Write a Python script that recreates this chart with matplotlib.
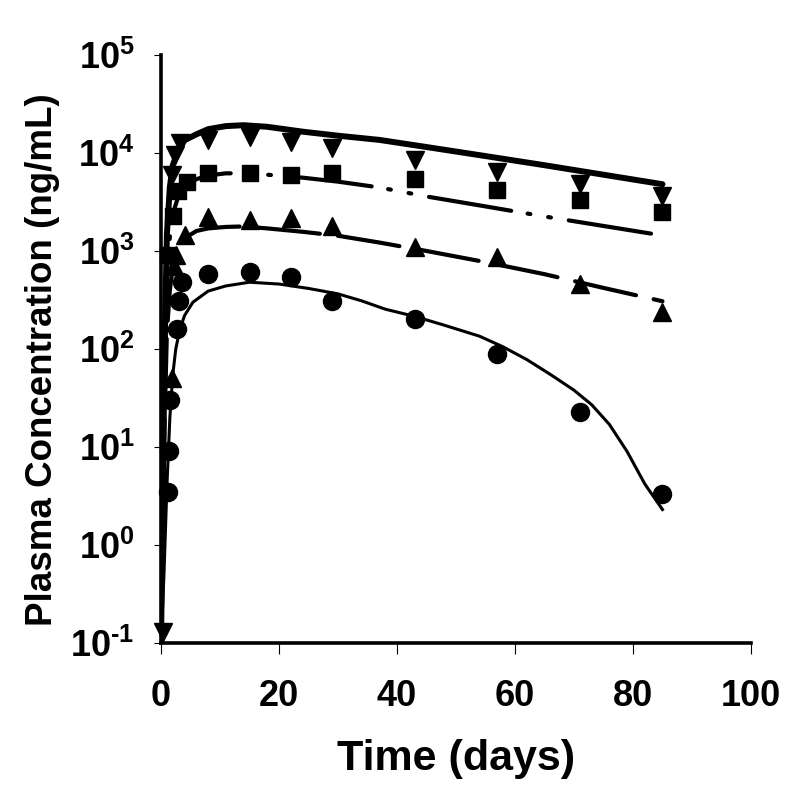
import numpy as np
import matplotlib
matplotlib.use('Agg')
import matplotlib.pyplot as plt

plt.rcParams['font.family'] = ['Liberation Sans', 'DejaVu Sans']
plt.rcParams['font.weight'] = 'bold'
plt.rcParams['mathtext.fontset'] = 'custom'
plt.rcParams['mathtext.rm'] = 'Liberation Sans:bold'
plt.rcParams['mathtext.bf'] = 'Liberation Sans:bold'
plt.rcParams['lines.scale_dashes'] = False

# observed data (days, ng/mL)
t_dn = [0.3, 1.9, 2.4, 3.3, 8, 15, 22, 29, 43, 57, 71, 85]
c_dn = [0.13, 6000, 9500, 12500, 13650, 14650, 13000, 11300, 8500, 6450, 4800, 3600]

t_sq = [1.2, 2.0, 2.9, 4.4, 8, 15, 22, 29, 43, 57, 71, 85]
c_sq = [900, 2250, 4100, 5000, 6300, 6300, 5900, 6300, 5450, 4150, 3350, 2470]

t_up = [1.9, 2.2, 2.6, 4.0, 8, 15, 22, 29, 43, 57, 71, 85]
c_up = [50, 700, 900, 1450, 2200, 2050, 2150, 1780, 1090, 860, 457, 237]

t_ci = [1.2, 1.4, 1.6, 2.7, 3.0, 3.6, 8, 15, 22, 29, 43, 57, 71, 85]
c_ci = [3.5, 9, 30, 160, 310, 480, 580, 615, 540, 310, 200, 89, 23, 3.3]

# model curves
m_t1 = [0, 0.3, 0.6, 1.0, 1.5, 2, 3, 4, 6, 8, 11, 14, 18, 24, 30, 37, 45, 55, 65, 75, 85]
m_c1 = [0.1, 3, 100, 1500, 4500, 7500, 11000, 13500, 15500, 17500, 18800, 19200,
        18500, 16500, 15000, 13600, 11500, 9300, 7500, 6000, 4800]

m_t2 = [0, 0.5, 1.0, 1.5, 2, 3, 4, 6, 8, 11, 14, 18, 24, 30, 37, 45, 55, 65, 75, 85]
m_c2 = [0.1, 30, 500, 1400, 2400, 3700, 4500, 5400, 5900, 6200, 6200, 6000, 5600,
        5100, 4450, 3600, 2850, 2250, 1800, 1440]

m_t3 = [0, 0.5, 1.0, 1.5, 2, 3, 4, 6, 8, 11, 14, 18, 24, 30, 37, 45, 55, 65, 75, 85]
m_c3 = [0.1, 10, 150, 400, 700, 1100, 1350, 1600, 1700, 1760, 1780, 1700, 1570,
        1430, 1220, 1000, 770, 580, 420, 307]

m_t4 = [0, 0.5, 1.0, 1.5, 2, 2.5, 3.2, 4, 5.4, 8, 11, 15, 20, 25, 30, 34, 38, 43,
        48, 54, 58, 62, 66, 70, 73, 76, 79, 82, 85]
m_c4 = [0.1, 0.5, 4, 20, 55, 100, 160, 220, 300, 390, 440, 480, 460, 415, 365, 310,
        255, 215, 175, 135, 105, 78, 55, 38, 27, 17, 9, 4.2, 2.3]

fig = plt.figure(figsize=(7.92, 7.92), dpi=100)
ax = fig.add_axes([0.2033, 0.1881, 0.7449, 0.7425])

ax.plot(m_t1, m_c1, '-', color='black', lw=4.3, solid_capstyle='round')
ax.plot(m_t2, m_c2, color='black', lw=3, dashes=[60, 12, 2, 13, 2, 13],
        dash_capstyle='round')
ax.plot(m_t3, m_c3, color='black', lw=3, dashes=[45, 13], dash_capstyle='round')
ax.plot(m_t4, m_c4, '-', color='black', lw=2.2, solid_joinstyle='round')

ax.plot(t_dn, c_dn, 'v', color='black', ms=13, ls='none', clip_on=False)
ax.plot(t_sq, c_sq, 's', color='black', ms=11.5, ls='none', clip_on=False)
ax.plot(t_up, c_up, '^', color='black', ms=13, ls='none', clip_on=False)
ax.plot(t_ci, c_ci, 'o', color='black', ms=13, ls='none', clip_on=False)

ax.set_yscale('log')
ax.set_xlim(0, 100)
ax.set_ylim(0.1, 1e5)

yticks = [0.1, 1, 10, 100, 1000, 10000, 100000]
ylabels = [r'$10^{\text{-}1}$', r'$10^{0}$', r'$10^{1}$', r'$10^{2}$', r'$10^{3}$',
           r'$10^{4}$', r'$10^{5}$']
ax.set_yticks(yticks)
ax.set_yticklabels(ylabels)
ax.yaxis.set_minor_locator(matplotlib.ticker.NullLocator())
ax.set_xticks([0, 20, 40, 60, 80, 100])

ax.spines['top'].set_visible(False)
ax.spines['right'].set_visible(False)
ax.spines['left'].set_linewidth(2.6)
ax.spines['bottom'].set_linewidth(2.6)
ax.tick_params(axis='x', direction='out', length=8, width=0.8, pad=18, labelsize=26)
ax.tick_params(axis='y', direction='out', length=5, width=0.8, pad=14, labelsize=26)

ax.set_xlabel('Time (days)', fontsize=31, fontweight='bold', labelpad=18)
ax.set_ylabel('Plasma Concentration (ng/mL)', fontsize=26.5, fontweight='bold')
ax.yaxis.set_label_coords(-0.172, 0.482)

fig.savefig('out.png', dpi=100)
